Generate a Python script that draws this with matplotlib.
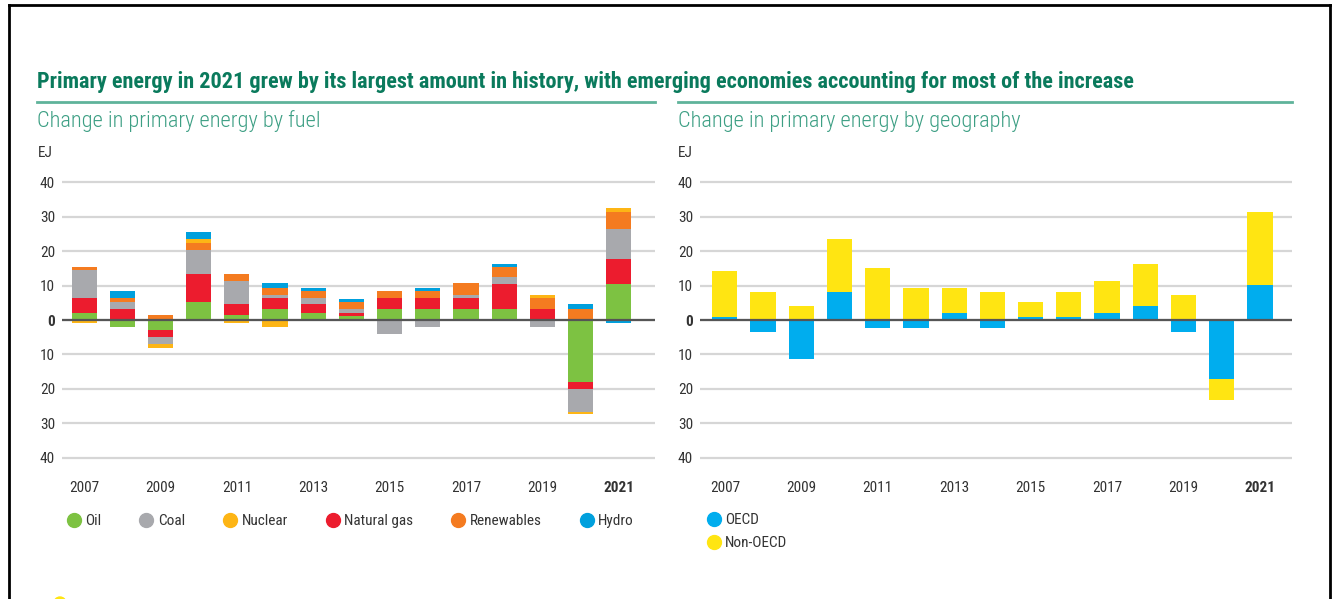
import numpy as np
import matplotlib.pyplot as plt
from matplotlib import font_manager
from matplotlib.lines import Line2D
from matplotlib.patches import Ellipse
from matplotlib.ticker import FixedLocator, FixedFormatter

# pick a condensed face if one is installed
installed = {(f.name, f.stretch) for f in font_manager.fontManager.ttflist}
names = {n for n, s in installed}
FONT = 'DejaVu Sans'
STRETCH = 'normal'
for cand in ['Roboto Condensed', 'Liberation Sans Narrow', 'Open Sans Condensed']:
    if cand in names:
        FONT = cand
        break
else:
    if ('DejaVu Sans', 'condensed') in installed or ('DejaVu Sans', 'semi-condensed') in installed:
        STRETCH = 'condensed'
    elif 'Liberation Sans' in names:
        FONT = 'Liberation Sans'
plt.rcParams['font.family'] = [FONT, 'DejaVu Sans']
plt.rcParams['font.stretch'] = STRETCH

# Data (EJ change per year)
years = np.arange(2007, 2022)
oil = [2.0, -2.0, -2.9, 5.3, 1.4, 3.3, 2.1, 1.3, 3.3, 3.3, 3.3, 3.3, 0.0, -18.0, 10.5]
natural_gas = [4.5, 3.3, -2.0, 8.0, 3.1, 3.2, 2.4, 0.8, 3.2, 3.2, 3.0, 7.2, 3.3, -2.0, 7.1]
coal = [7.9, 2.0, -2.1, 7.1, 6.7, 0.7, 1.9, 1.0, -4.0, -2.0, 0.9, 1.9, -2.0, -6.6, 8.7]
renewables = [1.1, 1.2, 1.4, 1.9, 2.0, 2.1, 2.0, 2.0, 2.0, 2.0, 3.4, 3.0, 3.2, 3.3, 5.0]
nuclear = [-0.9, 0.0, -1.0, 1.1, -0.9, -2.1, 0.0, 0.0, 0.0, 0.0, 0.0, 0.0, 0.7, -0.6, 1.1]
hydro = [0.0, 2.0, 0.0, 2.1, 0.0, 1.3, 0.9, 1.1, 0.0, 0.9, 0.0, 0.9, 0.0, 1.2, -0.9]

oecd = [1.0, -3.4, -11.2, 8.1, -2.2, -2.2, 2.1, -2.2, 1.0, 1.0, 2.1, 4.1, -3.4, -17.2, 10.1]
non_oecd = [13.3, 8.1, 4.1, 15.3, 15.1, 9.2, 7.1, 8.1, 4.3, 7.1, 9.1, 12.2, 7.3, -6.1, 21.1]

tick_years = [2007, 2009, 2011, 2013, 2015, 2017, 2019, 2021]
y_ticks = [-40, -30, -20, -10, 0, 10, 20, 30, 40]
y_labels = ['40', '30', '20', '10', '0', '10', '20', '30', '40']

C_OIL = '#7dc242'
C_COAL = '#a8a9ad'
C_NUC = '#fdb515'
C_GAS = '#ec1c2e'
C_REN = '#f47b20'
C_HYD = '#00a0dd'
C_OECD = '#00adee'
C_NON = '#ffe512'
TEAL = '#0a7a5c'
TEAL_LIGHT = '#3d9f84'
TXT = '#333333'

if FONT == 'DejaVu Sans' and STRETCH == 'normal':
    FS_TITLE, FS_SUB, FS_TXT = 12.0, 12.5, 9.5
elif FONT == 'Liberation Sans':
    FS_TITLE, FS_SUB, FS_TXT = 13.3, 13.5, 10.0
else:
    FS_TITLE, FS_SUB, FS_TXT = 16.0, 16.1, 11.0


def stacked(ax, series, colors):
    pos = np.zeros(len(years))
    neg = np.zeros(len(years))
    for vals, c in zip(series, colors):
        v = np.array(vals, dtype=float)
        base = np.where(v >= 0, pos, neg)
        ax.bar(years, v, 0.66, bottom=base, color=c, linewidth=0, zorder=3)
        pos += np.clip(v, 0, None)
        neg += np.clip(v, None, 0)


def style(ax, x0, x1):
    ax.set_xlim(x0, x1)
    ax.set_ylim(-40.6, 40.6)
    for s in ax.spines.values():
        s.set_visible(False)
    ax.yaxis.set_major_locator(FixedLocator(y_ticks))
    ax.yaxis.set_major_formatter(FixedFormatter(y_labels))
    ax.set_xticks(tick_years)
    ax.set_xticklabels([str(y) for y in tick_years])
    ax.tick_params(axis='both', length=0, labelsize=FS_TXT, labelcolor=TXT)
    ax.tick_params(axis='y', pad=5)
    ax.tick_params(axis='x', pad=15)
    ax.grid(axis='y', color='#d6d6d6', linewidth=1.6, zorder=0)
    ax.axhline(0, color='#555555', linewidth=1.6, zorder=4)
    ax.get_xticklabels()[-1].set_fontweight('bold')
    ax.get_yticklabels()[4].set_fontweight('bold')


fig = plt.figure(figsize=(13.38, 5.99), dpi=100)
W, H = 1338.0, 599.0

ax1 = fig.add_axes([62 / W, 1 - 460 / H, (655 - 62) / W, 280 / H])
ax2 = fig.add_axes([700 / W, 1 - 460 / H, (1292 - 700) / W, 280 / H])

stacked(ax1, [oil, natural_gas, coal, renewables, nuclear, hydro],
        [C_OIL, C_GAS, C_COAL, C_REN, C_NUC, C_HYD])
stacked(ax2, [oecd, non_oecd], [C_OECD, C_NON])

style(ax1, 2006.42, 2021.95)
style(ax2, 2006.35, 2021.84)

# Titles
fig.text(37 / W, 1 - 82 / H, 'Primary energy in 2021 grew by its largest amount in history, '
         'with emerging economies accounting for most of the increase',
         fontsize=FS_TITLE, fontweight='bold', color=TEAL, va='center', ha='left')
fig.add_artist(Line2D([37 / W, 655 / W], [1 - 102 / H] * 2, color='#5fb39a', linewidth=2))
fig.add_artist(Line2D([678 / W, 1292 / W], [1 - 102 / H] * 2, color='#5fb39a', linewidth=2))
fig.text(37 / W, 1 - 121 / H, 'Change in primary energy by fuel',
         fontsize=FS_SUB, fontweight='light', color=TEAL_LIGHT, va='center', ha='left')
fig.text(678 / W, 1 - 121 / H, 'Change in primary energy by geography',
         fontsize=FS_SUB, fontweight='light', color=TEAL_LIGHT, va='center', ha='left')
fig.text(38 / W, 1 - 153 / H, 'EJ', fontsize=FS_TXT, color=TXT, va='center', ha='left')
fig.text(678 / W, 1 - 153 / H, 'EJ', fontsize=FS_TXT, color=TXT, va='center', ha='left')


def dot(c):
    return Line2D([], [], marker='o', linestyle='', markersize=10,
                  markerfacecolor=c, markeredgecolor=c)


fuel_labels = ['Oil', 'Coal', 'Nuclear', 'Natural gas', 'Renewables', 'Hydro']
fuel_colors = [C_OIL, C_COAL, C_NUC, C_GAS, C_REN, C_HYD]
leg1 = fig.legend([dot(c) for c in fuel_colors], fuel_labels, ncol=6,
                  loc='center left', bbox_to_anchor=(66 / W, 1 - 521 / H),
                  frameon=False, fontsize=FS_TXT, handletextpad=0.25,
                  columnspacing=2.45, handlelength=1.0, borderaxespad=0, borderpad=0)
for t in leg1.get_texts():
    t.set_color(TXT)

geo_labels = ['OECD', 'Non-OECD']
leg2 = fig.legend([dot(C_OECD), dot(C_NON)], geo_labels, ncol=1,
                  loc='upper left', bbox_to_anchor=(706 / W, 1 - 513 / H),
                  frameon=False, fontsize=FS_TXT, handletextpad=0.25,
                  handlelength=1.0, labelspacing=0.6, borderaxespad=0, borderpad=0)
for t in leg2.get_texts():
    t.set_color(TXT)

# Frame of the screenshot, and the edge of a cut-off item below
fig.add_artist(Line2D([9 / W, 9 / W], [0, 1 - 5 / H], color='black', linewidth=2))
fig.add_artist(Line2D([9 / W, 1330 / W], [1 - 5 / H] * 2, color='black', linewidth=2))
fig.add_artist(Line2D([1330 / W, 1330 / W], [0, 1 - 5 / H], color='black', linewidth=2))
fig.add_artist(Ellipse((60 / W, 1 - 603 / H), 12 / W, 12 / H, color=C_NON))

fig.savefig('out.png', dpi=100)
